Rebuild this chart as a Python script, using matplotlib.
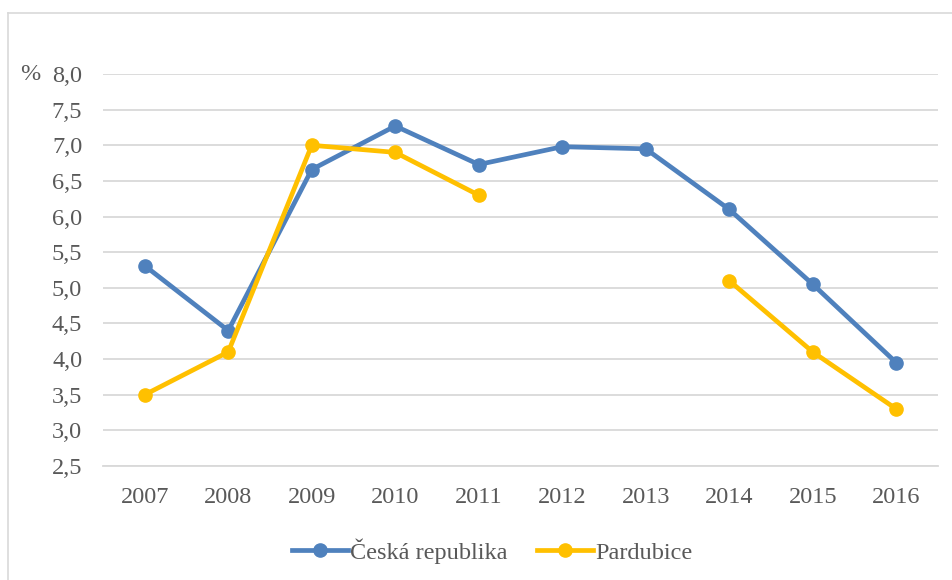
import matplotlib.pyplot as plt
import numpy as np
from matplotlib.lines import Line2D

plt.rcParams['font.family'] = ['Liberation Serif', 'DejaVu Serif']

years = ['2007', '2008', '2009', '2010', '2011', '2012', '2013', '2014', '2015', '2016']
cr = [5.31, 4.40, 6.66, 7.27, 6.73, 6.98, 6.95, 6.10, 5.05, 3.95]
pardubice = [3.5, 4.1, 7.0, 6.9, 6.3, np.nan, np.nan, 5.1, 4.1, 3.3]
yticks = [2.5, 3.0, 3.5, 4.0, 4.5, 5.0, 5.5, 6.0, 6.5, 7.0, 7.5, 8.0]

txt = '#595959'
fig = plt.figure(figsize=(9.53, 5.80), dpi=100)
ax = fig.add_axes([103 / 953, 1 - 466 / 580, 835 / 953, 392 / 580])

x = np.arange(len(years))
ax.plot(x, cr, color='#4f81bd', lw=3.4, marker='o', ms=9.5, label='Česká republika', zorder=3)
ax.plot(x, pardubice, color='#ffc000', lw=3.4, marker='o', ms=9.5, label='Pardubice', zorder=4)

ax.set_xlim(-0.5, len(years) - 0.5)
ax.set_ylim(2.5, 8.0)
ax.set_yticks(yticks)
ax.set_yticklabels([f'{v:.1f}'.replace('.', ',') for v in yticks])
ax.set_xticks(x)
ax.set_xticklabels(years)
ax.grid(axis='y', color='#d9d9d9', lw=1.3)
ax.set_axisbelow(True)
for s in ['top', 'right', 'left']:
    ax.spines[s].set_visible(False)
ax.spines['bottom'].set_color('#d9d9d9')
ax.spines['bottom'].set_linewidth(1.3)
ax.tick_params(axis='both', length=0, labelsize=17.5, colors=txt)
ax.tick_params(axis='y', pad=15)
ax.tick_params(axis='x', pad=15)

fig.text(30 / 953, 1 - 75 / 580, '%', fontsize=17.5, color=txt, ha='center', va='center')

# chart border (top and left visible)
fig.add_artist(Line2D([8 / 953, 8 / 953], [0, 1 - 13 / 580], transform=fig.transFigure, color='#d9d9d9', lw=1.2))
fig.add_artist(Line2D([8 / 953, 952 / 953], [1 - 13 / 580, 1 - 13 / 580], transform=fig.transFigure, color='#d9d9d9', lw=1.2))

fig.legend(loc='center', bbox_to_anchor=(492 / 953, 1 - 551 / 580), ncol=2, frameon=False,
           fontsize=17.5, labelcolor=txt, handlelength=2.3, handletextpad=0.1, columnspacing=1.2)

fig.savefig('out.png', dpi=100)
